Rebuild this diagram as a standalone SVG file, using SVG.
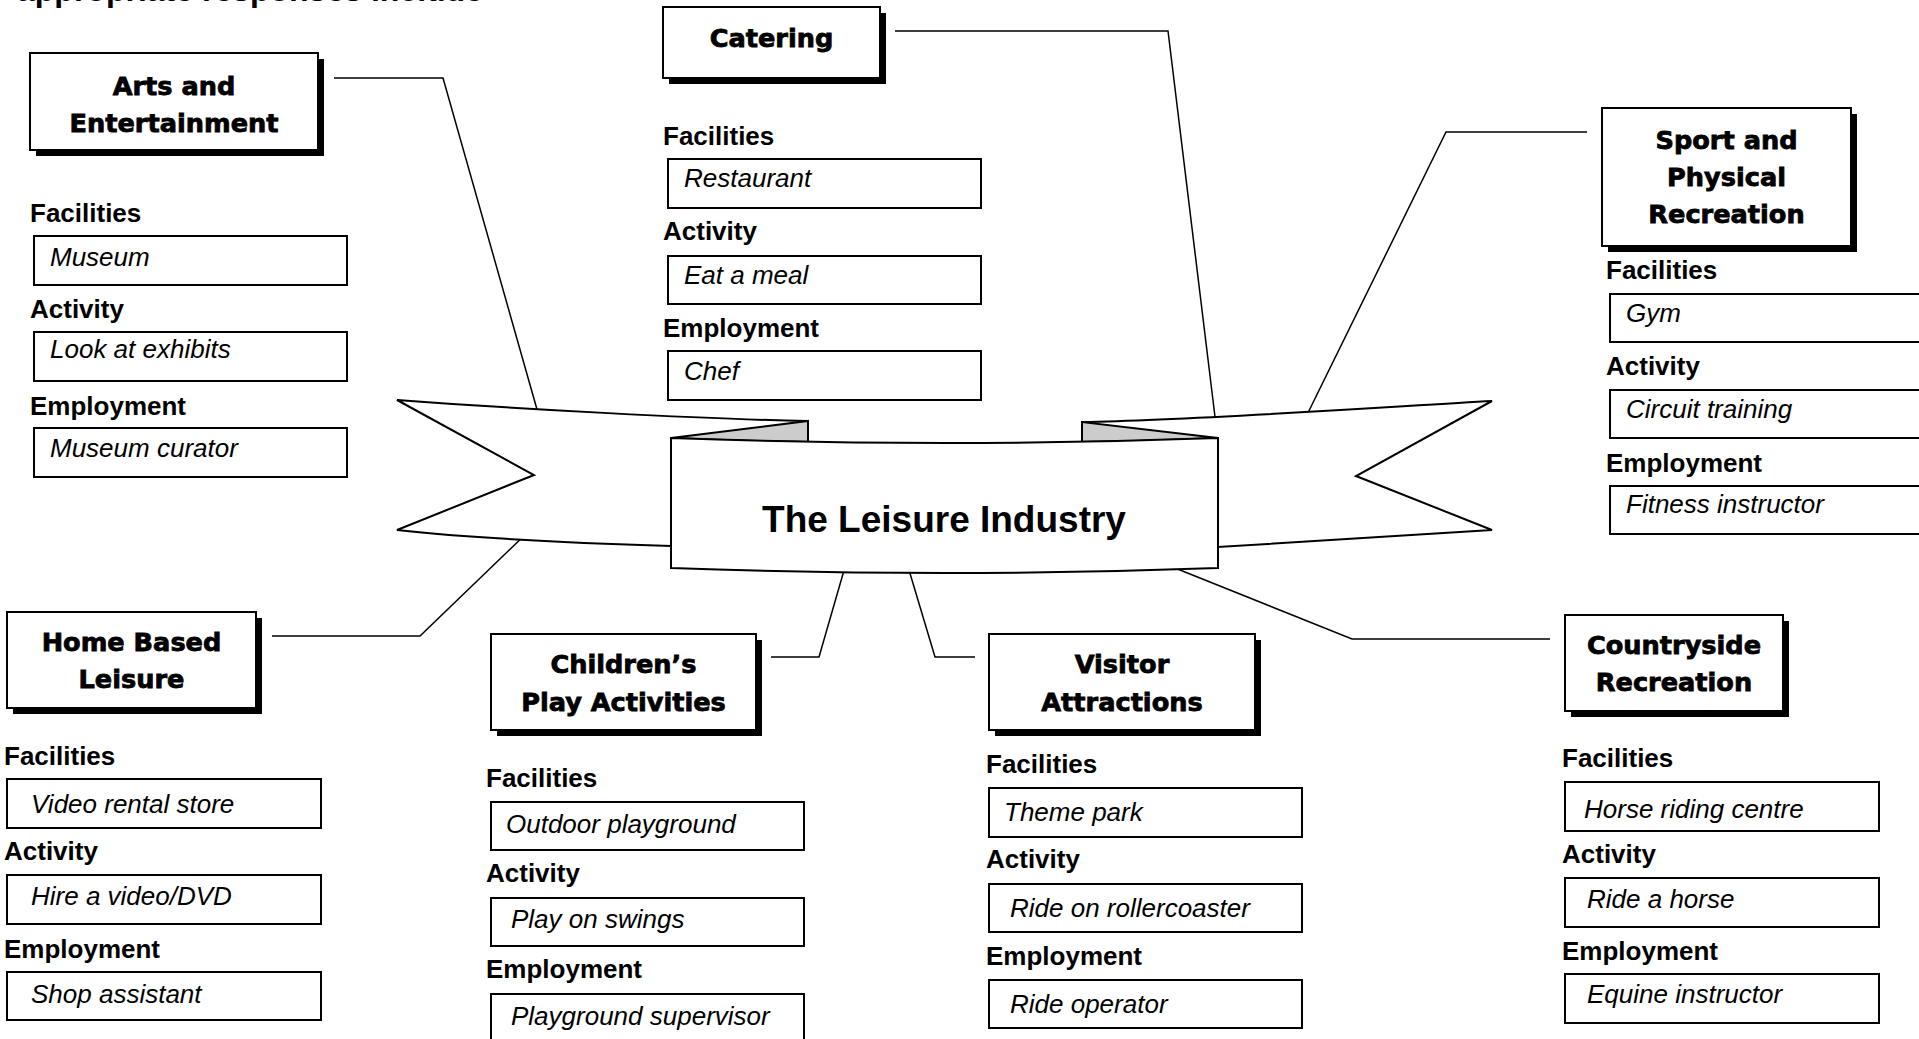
<svg xmlns="http://www.w3.org/2000/svg" width="1919" height="1039" viewBox="0 0 1919 1039">
<style>
  .bg{fill:#fff}
  .box{fill:#fff;stroke:#000;stroke-width:2}
  .shadow{fill:#000}
  .title{font-family:"DejaVu Sans",sans-serif;font-weight:bold;font-size:25.6px;text-anchor:middle;fill:#000;stroke:#000;stroke-width:0.8}
  .lbl{font-family:"Liberation Sans",Arial,sans-serif;font-weight:bold;font-size:26px;fill:#000}
  .val{font-family:"Liberation Sans",Arial,sans-serif;font-style:italic;font-size:26px;fill:#000}
  .ibox{fill:#fff;stroke:#000;stroke-width:2}
  .conn{fill:none;stroke:#000;stroke-width:1.5}
  .ban{fill:#fff;stroke:#000;stroke-width:2;stroke-linejoin:miter}
  .fold{fill:#ccc;stroke:#000;stroke-width:2}
  .main{font-family:"Liberation Sans",Arial,sans-serif;font-weight:bold;font-size:37px;text-anchor:middle;fill:#000}
</style>
<rect class="bg" x="0" y="0" width="1919" height="1039"/>
<text class="lbl" x="17" y="1" style="font-size:32px">appropriate responses include</text>

<g id="connectors">
  <polyline class="conn" points="334,78 443,78 540,420"/>
  <polyline class="conn" points="895,31 1168,31 1216,425"/>
  <polyline class="conn" points="1587,132 1446,132 1302,425"/>
  <polyline class="conn" points="272,636 420,636 530,530"/>
  <polyline class="conn" points="771,657 819,657 847,560"/>
  <polyline class="conn" points="975,657 935,657 906,560"/>
  <polyline class="conn" points="1550,639 1352,639 1160,562"/>
</g>

<g id="banner">
  <path class="ban" d="M397,400 C520,409 700,419 808,421 L808,470 L671,470 L671,546 C570,543 470,538 397,530 L534,475 Z"/>
  <path class="ban" d="M1492,401 C1400,406 1200,420 1082,422 L1082,470 L1218,470 L1218,547 C1320,541 1420,535 1492,530 L1356,476 Z"/>
  <path class="fold" d="M671,438 L808,421 L808,442 Q740,441 671,438 Z"/>
  <path class="fold" d="M1218,438 L1082,422 L1082,442 Q1150,441 1218,438 Z"/>
  <path class="ban" d="M671,438 Q944,448 1218,438 L1218,568 Q944,578 671,568 Z"/>
  <text class="main" x="944" y="532">The Leisure Industry</text>
</g>

<g id="arts">
  <rect class="shadow" x="36" y="59" width="288" height="97"/>
  <rect class="box" x="30" y="53" width="288" height="97"/>
  <text class="title" x="174" y="95">Arts and</text>
  <text class="title" x="174" y="132">Entertainment</text>
  <text class="lbl" x="30" y="222">Facilities</text>
  <rect class="ibox" x="34" y="236" width="313" height="49"/>
  <text class="val" x="50" y="266">Museum</text>
  <text class="lbl" x="30" y="318">Activity</text>
  <rect class="ibox" x="34" y="332" width="313" height="49"/>
  <text class="val" x="50" y="358">Look at exhibits</text>
  <text class="lbl" x="30" y="415">Employment</text>
  <rect class="ibox" x="34" y="428" width="313" height="49"/>
  <text class="val" x="50" y="457">Museum curator</text>
</g>

<g id="catering">
  <rect class="shadow" x="669" y="13" width="217" height="71"/>
  <rect class="box" x="663" y="7" width="217" height="71"/>
  <text class="title" x="771.5" y="47">Catering</text>
  <text class="lbl" x="663" y="145">Facilities</text>
  <rect class="ibox" x="668" y="159" width="313" height="49"/>
  <text class="val" x="684" y="187">Restaurant</text>
  <text class="lbl" x="663" y="240">Activity</text>
  <rect class="ibox" x="668" y="256" width="313" height="48"/>
  <text class="val" x="684" y="284">Eat a meal</text>
  <text class="lbl" x="663" y="337">Employment</text>
  <rect class="ibox" x="668" y="351" width="313" height="49"/>
  <text class="val" x="684" y="380">Chef</text>
</g>

<g id="sport">
  <rect class="shadow" x="1608" y="114" width="249" height="138"/>
  <rect class="box" x="1602" y="108" width="249" height="138"/>
  <text class="title" x="1726.5" y="149">Sport and</text>
  <text class="title" x="1726.5" y="186">Physical</text>
  <text class="title" x="1726.5" y="223">Recreation</text>
  <text class="lbl" x="1606" y="279">Facilities</text>
  <rect class="ibox" x="1610" y="294" width="330" height="48"/>
  <text class="val" x="1626" y="322">Gym</text>
  <text class="lbl" x="1606" y="375">Activity</text>
  <rect class="ibox" x="1610" y="390" width="330" height="48"/>
  <text class="val" x="1626" y="418">Circuit training</text>
  <text class="lbl" x="1606" y="472">Employment</text>
  <rect class="ibox" x="1610" y="486" width="330" height="48"/>
  <text class="val" x="1626" y="513">Fitness instructor</text>
</g>

<g id="home">
  <rect class="shadow" x="13" y="618" width="249" height="96"/>
  <rect class="box" x="7" y="612" width="249" height="96"/>
  <text class="title" x="131.5" y="651">Home Based</text>
  <text class="title" x="131.5" y="688">Leisure</text>
  <text class="lbl" x="4" y="765">Facilities</text>
  <rect class="ibox" x="7" y="779" width="314" height="49"/>
  <text class="val" x="31" y="813">Video rental store</text>
  <text class="lbl" x="4" y="860">Activity</text>
  <rect class="ibox" x="7" y="875" width="314" height="49"/>
  <text class="val" x="31" y="905">Hire a video/DVD</text>
  <text class="lbl" x="4" y="958">Employment</text>
  <rect class="ibox" x="7" y="972" width="314" height="48"/>
  <text class="val" x="31" y="1003">Shop assistant</text>
</g>

<g id="children">
  <rect class="shadow" x="497" y="640" width="265" height="96"/>
  <rect class="box" x="491" y="634" width="265" height="96"/>
  <text class="title" x="623.5" y="673">Children’s</text>
  <text class="title" x="623.5" y="711">Play Activities</text>
  <text class="lbl" x="486" y="787">Facilities</text>
  <rect class="ibox" x="491" y="802" width="313" height="48"/>
  <text class="val" x="506" y="833">Outdoor playground</text>
  <text class="lbl" x="486" y="882">Activity</text>
  <rect class="ibox" x="491" y="898" width="313" height="48"/>
  <text class="val" x="511" y="928">Play on swings</text>
  <text class="lbl" x="486" y="978">Employment</text>
  <rect class="ibox" x="491" y="994" width="313" height="60"/>
  <text class="val" x="511" y="1025">Playground supervisor</text>
</g>

<g id="visitor">
  <rect class="shadow" x="995" y="640" width="266" height="96"/>
  <rect class="box" x="989" y="634" width="266" height="96"/>
  <text class="title" x="1122" y="673">Visitor</text>
  <text class="title" x="1122" y="711">Attractions</text>
  <text class="lbl" x="986" y="773">Facilities</text>
  <rect class="ibox" x="989" y="788" width="313" height="49"/>
  <text class="val" x="1004" y="821">Theme park</text>
  <text class="lbl" x="986" y="868">Activity</text>
  <rect class="ibox" x="989" y="884" width="313" height="48"/>
  <text class="val" x="1010" y="917">Ride on rollercoaster</text>
  <text class="lbl" x="986" y="965">Employment</text>
  <rect class="ibox" x="989" y="980" width="313" height="48"/>
  <text class="val" x="1010" y="1013">Ride operator</text>
</g>

<g id="countryside">
  <rect class="shadow" x="1571" y="621" width="218" height="96"/>
  <rect class="box" x="1565" y="615" width="218" height="96"/>
  <text class="title" x="1674" y="654">Countryside</text>
  <text class="title" x="1674" y="691">Recreation</text>
  <text class="lbl" x="1562" y="767">Facilities</text>
  <rect class="ibox" x="1565" y="782" width="314" height="49"/>
  <text class="val" x="1584" y="818">Horse riding centre</text>
  <text class="lbl" x="1562" y="863">Activity</text>
  <rect class="ibox" x="1565" y="878" width="314" height="49"/>
  <text class="val" x="1587" y="908">Ride a horse</text>
  <text class="lbl" x="1562" y="960">Employment</text>
  <rect class="ibox" x="1565" y="974" width="314" height="49"/>
  <text class="val" x="1587" y="1003">Equine instructor</text>
</g>
</svg>
